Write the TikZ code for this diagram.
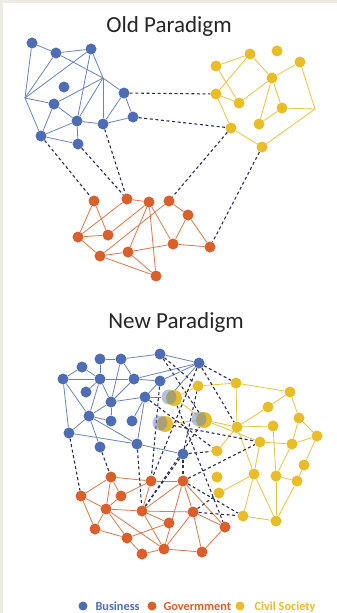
\documentclass[tikz,border=0pt]{standalone}
\usepackage{fontspec}
\setmainfont{Carlito}
\usetikzlibrary{backgrounds}

\definecolor{bizblue}{HTML}{4F6DB4}
\definecolor{govorange}{HTML}{DA5F2A}
\definecolor{civyellow}{HTML}{E9BD27}
\definecolor{tienavy}{HTML}{2A2C5E}
\definecolor{edgegray}{HTML}{ECEBE4}

\begin{document}
\begin{tikzpicture}
[
    x=1pt, y=-1pt,
    dot/.style={circle, inner sep=0pt, minimum size=11pt},
    biz/.style={dot, fill=bizblue},
    gov/.style={dot, fill=govorange},
    civ/.style={dot, fill=civyellow},
    mixciv/.style={circle, inner sep=0pt, minimum size=16pt, fill=civyellow},
    mixbiz/.style={circle, inner sep=0pt, minimum size=15pt, fill=bizblue!85, fill opacity=0.5},
    bizline/.style={draw=bizblue!85, line width=0.8pt},
    govline/.style={draw=govorange!85, line width=0.8pt},
    civline/.style={draw=civyellow!90, line width=0.8pt},
    tie/.style={draw=tienavy, line width=1.1pt, dash pattern=on 3pt off 2.6pt},
    title/.style={font=\fontsize{23}{27}\selectfont, text=black!85, anchor=base},
    key/.style={font=\bfseries\fontsize{12.3}{14}\selectfont, anchor=base west},
]
\useasboundingbox (0,0) rectangle (337,613);

\node[title] (oldtitle) at (169,32) {Old Paradigm};
\node[title] (newtitle) at (176,328) {New Paradigm};

% old paradigm
\foreach \n/\x/\y in {b1/32/43, b2/56/53, b3/91/49, b4/64/87, b5/54/104, b6/77/121,
    b7/103/124, b8/124/93, b9/133/117, b10/41/136, b11/78/144}
    \node[biz] (\n) at (\x,\y) {};
\coordinate (jb1) at (25,98);
\coordinate (jb2) at (103,78);
\foreach \n/\x/\y in {c1/216/66, c2/250/54, c3/277/51, c4/300/62, c5/272/78, c6/216/94,
    c7/239/103, c8/282/108, c9/259/124, c10/231/128, c11/262/147}
    \node[civ] (\n) at (\x,\y) {};
\coordinate (jc) at (315,109);
\foreach \n/\x/\y in {g1/94/201, g2/127/199, g3/149/202, g4/169/201, g5/188/215, g6/78/237,
    g7/108/235, g8/173/244, g9/210/247, g10/100/256, g11/128/252, g12/156/276}
    \node[gov] (\n) at (\x,\y) {};

% new paradigm
\foreach \n/\x/\y in {nb1/100/359, nb2/121/359, nb3/160/354, nb4/82/367, nb5/63/379,
    nb6/100/379, nb7/134/379, nb8/160/381, nb9/86/392, nb10/111/402, nb11/145/397,
    nb12/89/416, nb13/111/421, nb14/132/421, nb15/69/433, nb16/100/447, nb17/137/444,
    nb18/183/454, nb19/199/363}
    \node[biz] (\n) at (\x,\y) {};
\foreach \n/\x/\y in {nc1/198/386, nc2/236/383, nc3/290/392, nc4/268/407, nc5/299/418,
    nc6/237/427, nc7/273/426, nc8/317/436, nc9/260/442, nc10/292/444, nc11/217/451,
    nc12/304/465, nc13/217/477, nc14/254/474, nc15/276/476, nc16/297/481, nc17/219/493,
    nc18/243/516, nc19/276/521}
    \node[civ] (\n) at (\x,\y) {};
\foreach \n/\x/\y in {ng1/111/477, ng2/151/481, ng3/183/481, ng4/81/496, ng5/121/496,
    ng6/106/509, ng7/142/511, ng8/193/512, ng9/169/523, ng10/225/527, ng11/95/529,
    ng12/127/538, ng13/164/549, ng14/142/554, ng15/202/552}
    \node[gov] (\n) at (\x,\y) {};
\foreach \n/\x/\y in {1/174/398, 2/165/424, 3/204/420}
{
    \node[mixciv] (mix\n) at (\x,\y) {};
    \node[mixbiz] (mixb\n) at (\x-5,\y-1) {};
}

\begin{pgfonlayer}{background}
% page and screenshot edges
\fill[white] (0,0) rectangle (337,613);
\fill[edgegray] (0,0) rectangle (3,613);
\fill[edgegray] (0,0) rectangle (337,3);

\foreach \a/\b in {b1/b2, b2/b3, b1/jb1, jb1/b2, jb1/b3, jb1/b5, jb1/b10, b2/jb2, b3/jb2,
    jb2/b8, jb2/b5, jb2/b6, jb2/b7, b3/b6, b5/b6, b5/b10, b6/b10, b6/b7, b6/b11, b10/b11,
    b7/b8, b7/b9, b8/b9}
    \draw[bizline] (\a) -- (\b);
\foreach \a/\b in {c1/c2, c2/c5, c5/c4, c4/jc, jc/c8, jc/c11, c11/c10, c10/c6, c6/c2,
    c1/c7, c6/c7, c7/c5, c5/c9, c5/c8, c8/c9}
    \draw[civline] (\a) -- (\b);
\foreach \a/\b in {g1/g6, g1/g7, g6/g7, g6/g2, g7/g3, g2/g3, g3/g11, g3/g12, g3/g8,
    g4/g10, g4/g5, g5/g8, g5/g9, g8/g9, g8/g11, g10/g11, g10/g12, g11/g12, g6/g10}
    \draw[govline] (\a) -- (\b);
\foreach \a/\b in {b8/c6, b9/c10, b10/g1, b11/g2, b7/g2, c10/g4, c11/g9}
    \draw[tie] (\a) -- (\b);

\foreach \a/\b in {nb5/nb4, nb4/nb6, nb5/nb6, nb6/nb1, nb1/nb2, nb2/nb3, nb3/nb19,
    nb2/nb7, nb2/nb10, nb6/nb9, nb6/nb10, nb6/nb7, nb7/nb8, nb7/nb19, nb8/nb19,
    nb7/nb10, nb10/nb11, nb8/nb11, nb11/nb14, nb11/nb17, nb5/nb15, nb5/nb12, nb6/nb12,
    nb10/nb12, nb10/nb13, nb12/nb13, nb12/nb15, nb12/nb16, nb12/nb17, nb15/nb17,
    nb17/nb18, nb11/mixb1, mixb1/nb19}
    \draw[bizline] (\a) -- (\b);
\foreach \a/\b in {nc1/nc2, nc1/mix1, mix1/mix3, nc2/nc3, nc2/nc6, nc3/nc4, nc3/nc5,
    nc4/nc6, nc5/nc8, nc5/nc10, nc6/nc7, nc6/nc11, mix3/nc6, mix2/mix3, mix3/nc9,
    nc7/nc15, nc8/nc10, nc8/nc12, nc9/nc10, nc9/nc14, nc6/nc14, nc14/nc17, nc14/nc18,
    nc14/nc19, nc15/nc19, nc15/nc10, nc12/nc16, nc16/nc19, nc18/nc19, nc16/nc15}
    \draw[civline] (\a) -- (\b);
\foreach \a/\b in {ng1/ng4, ng1/ng5, ng1/ng6, ng1/ng2, ng2/ng5, ng2/ng3, ng2/ng7,
    ng3/ng7, ng3/ng8, ng3/ng13, ng3/ng10, ng4/ng6, ng4/ng11, ng5/ng6, ng6/ng7, ng7/ng8,
    ng6/ng11, ng6/ng12, ng6/ng13, ng7/ng9, ng7/ng13, ng8/ng10, ng8/ng15, ng9/ng12,
    ng11/ng12, ng12/ng14, ng13/ng14, ng13/ng15, ng10/ng15, ng8/ng13}
    \draw[govline] (\a) -- (\b);
\foreach \a/\b in {nb15/ng4, nb16/ng1, nb17/ng7, nb18/ng3, nb18/nc11, nb18/nc1,
    nb19/nc2, nb19/nc6, nb3/nc1, nb3/mix3, nb19/ng2, nb8/ng2, nb11/nc11, mix1/ng10,
    mix2/nc9, ng3/nc9, ng3/nc18, ng8/nc18, ng8/nc17, ng7/mix3, ng7/nb18}
    \draw[tie] (\a) -- (\b);
\end{pgfonlayer}

% legend
\node[dot, minimum size=9pt, fill=bizblue] (keybiz) at (83,606) {};
\node[key, text=bizblue] (keybiztext) at (92,610) {Business};
\node[dot, minimum size=9pt, fill=govorange] (keygov) at (152,606) {};
\node[key, text=govorange] (keygovtext) at (160,610) {Govermment};
\node[dot, minimum size=9pt, fill=civyellow] (keyciv) at (240,606) {};
\node[key, text=civyellow] (keycivtext) at (251,610) {Civil Society};
\end{tikzpicture}
\end{document}
